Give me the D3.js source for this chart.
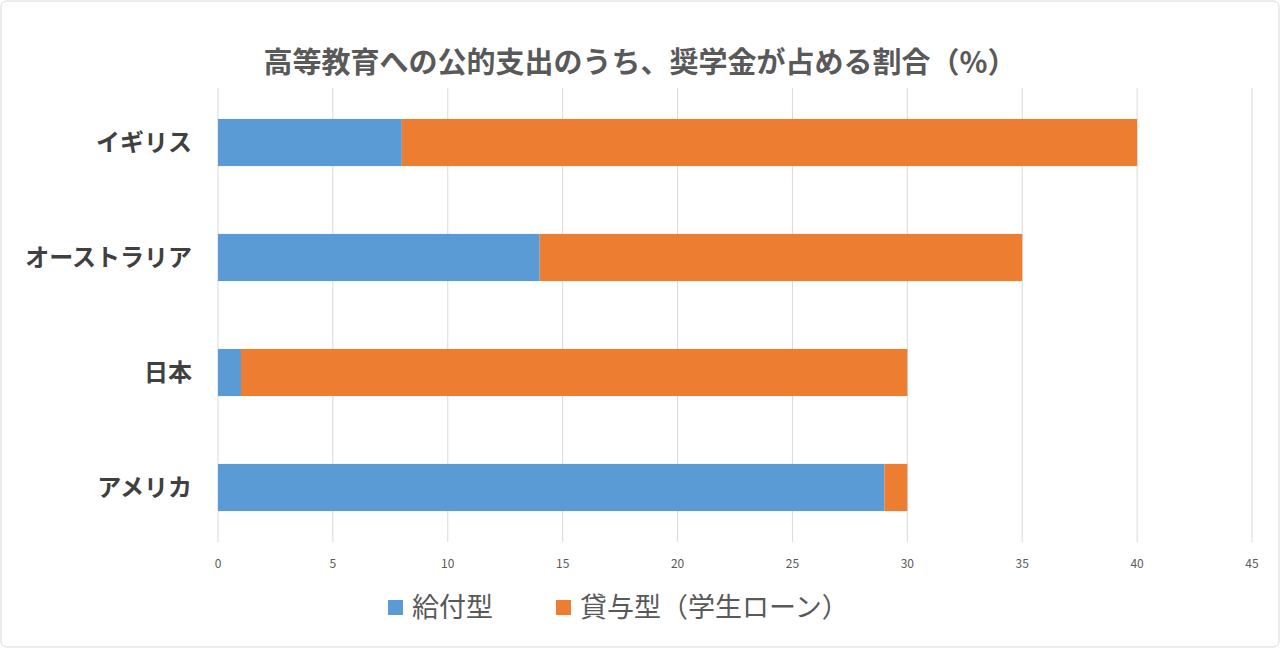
<!DOCTYPE html>
<html><head><meta charset="utf-8">
<script src="https://cdn.jsdelivr.net/npm/d3@7"></script>
<style>body{margin:0;background:#fff;font-family:"Noto Sans CJK JP",sans-serif}</style>
</head><body><svg id="c" width="1280" height="648"></svg>
<script>
const categories=["イギリス","オーストラリア","日本","アメリカ"];
const grant=[8,14,1,29];
const loan=[32,21,29,1];
const ticks=[0,5,10,15,20,25,30,35,40,45];
const seriesNames=["給付型","貸与型（学生ローン）"];
const colors=["#5b9bd5","#ed7d31"];
const svg=d3.select("#c");
svg.append("rect").attr("x",1).attr("y",1).attr("width",1278).attr("height",646).attr("rx",6).attr("fill","#fff").attr("stroke","#d9d9d9");
const x=d3.scaleLinear().domain([0,45]).range([218,1252]);
const y=d3.scaleBand().domain(categories).range([85,545]).paddingInner(0.59).paddingOuter(0.295);
svg.append("g").selectAll("line").data(ticks).join("line").attr("x1",d=>x(d)).attr("x2",d=>x(d)).attr("y1",88).attr("y2",542).attr("stroke","#d9d9d9");
svg.append("g").selectAll("text").data(ticks).join("text").attr("x",d=>x(d)).attr("y",568).attr("text-anchor","middle").attr("font-size",12).attr("fill","#595959").text(d=>d);
categories.forEach((c,i)=>{
 svg.append("rect").attr("x",x(0)).attr("y",y(c)).attr("width",x(grant[i])-x(0)).attr("height",y.bandwidth()).attr("fill",colors[0]);
 svg.append("rect").attr("x",x(grant[i])).attr("y",y(c)).attr("width",x(grant[i]+loan[i])-x(grant[i])).attr("height",y.bandwidth()).attr("fill",colors[1]);
 svg.append("text").attr("x",192).attr("y",y(c)+y.bandwidth()/2).attr("dy","0.35em").attr("text-anchor","end").attr("font-size",24).attr("font-weight","bold").attr("fill","#404040").text(c);
});
svg.append("text").attr("x",640).attr("y",73).attr("text-anchor","middle").attr("font-size",29).attr("font-weight","bold").attr("fill","#595959").text("高等教育への公的支出のうち、奨学金が占める割合（%）");
const lx=[388,556];
seriesNames.forEach((s,i)=>{
 svg.append("rect").attr("x",lx[i]).attr("y",600).attr("width",15).attr("height",15).attr("fill",colors[i]);
 svg.append("text").attr("x",lx[i]+24).attr("y",608).attr("dy","0.35em").attr("font-size",27).attr("fill","#595959").text(s);
});
</script></body></html>
